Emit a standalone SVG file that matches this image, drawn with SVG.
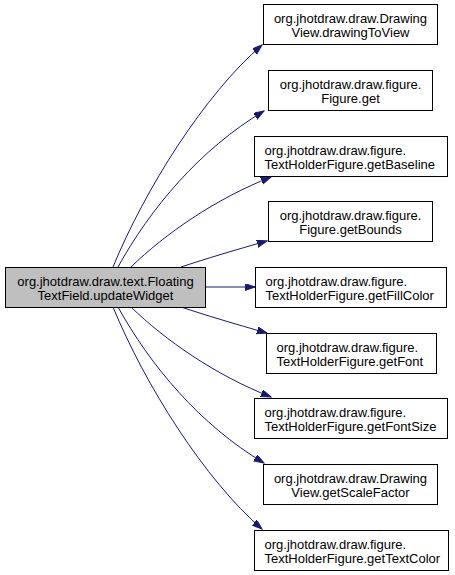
<svg xmlns="http://www.w3.org/2000/svg" width="455" height="575" viewBox="0 0 455 575">
<defs>
<marker id="ah" markerUnits="userSpaceOnUse" markerWidth="11" markerHeight="8" refX="10" refY="3.5" orient="auto">
<path d="M0,0 L10,3.5 L0,7 Z" fill="#191970" stroke="#191970" stroke-width="1"/>
</marker>
<style>
rect.n{fill:#ffffff;stroke:#000000;stroke-width:1}
rect.src{fill:#bfbfbf;stroke:#000000;stroke-width:1}
text{font-family:"Liberation Sans",Arial,sans-serif;font-size:13px;fill:#000000}
text.c{text-anchor:middle}
text.l{text-anchor:start}
.e{fill:none;stroke:#191970;stroke-width:1;marker-end:url(#ah)}
</style>
</defs>
<rect width="455" height="575" fill="#ffffff"/>
<g id="edges">
<path class="e" d="M113,267 C145,189 205,94 262,45"/>
<path class="e" d="M118,267 C150,209 200,149 264,111"/>
<path class="e" d="M131,267 C165,234 215,199 271,177"/>
<path class="e" d="M181,267 C205,259 235,250 267,241"/>
<path class="e" d="M205,287 L255,287"/>
<path class="e" d="M181,307 C205,315 235,324 267,333"/>
<path class="e" d="M131,307 C165,340 215,375 271,397"/>
<path class="e" d="M118,307 C150,365 200,425 264,463"/>
<path class="e" d="M113,307 C145,385 205,480 262,529"/>
</g>
<g id="src">
<rect class="src" x="5.5" y="267.5" width="200" height="40"/>
<text class="c" x="105.5" y="285.5">org.jhotdraw.draw.text.Floating</text>
<text class="c" x="105.5" y="299.5">TextField.updateWidget</text>
</g>
<g id="n1">
<rect class="n" x="263.5" y="4.5" width="174" height="40"/>
<text class="c" x="350.5" y="22.5">org.jhotdraw.draw.Drawing</text>
<text class="c" x="350.5" y="36.5">View.drawingToView</text>
</g>
<g id="n2">
<rect class="n" x="268.5" y="70.5" width="164" height="40"/>
<text class="c" x="350.5" y="88.5">org.jhotdraw.draw.figure.</text>
<text class="c" x="350.5" y="102.5">Figure.get</text>
</g>
<g id="n3">
<rect class="n" x="254.5" y="136.5" width="193" height="40"/>
<text class="l" x="264.5" y="154.5">org.jhotdraw.draw.figure.</text>
<text class="l" x="264.5" y="168.5">TextHolderFigure.getBaseline</text>
</g>
<g id="n4">
<rect class="n" x="268.5" y="201.5" width="164" height="40"/>
<text class="c" x="350.5" y="219.5">org.jhotdraw.draw.figure.</text>
<text class="c" x="350.5" y="233.5">Figure.getBounds</text>
</g>
<g id="n5">
<rect class="n" x="255.5" y="267.5" width="191" height="40"/>
<text class="l" x="265.5" y="285.5">org.jhotdraw.draw.figure.</text>
<text class="l" x="265.5" y="299.5">TextHolderFigure.getFillColor</text>
</g>
<g id="n6">
<rect class="n" x="266.5" y="333.5" width="170" height="40"/>
<text class="l" x="276.5" y="351.5">org.jhotdraw.draw.figure.</text>
<text class="l" x="276.5" y="365.5">TextHolderFigure.getFont</text>
</g>
<g id="n7">
<rect class="n" x="254.5" y="398.5" width="193" height="40"/>
<text class="l" x="264.5" y="416.5">org.jhotdraw.draw.figure.</text>
<text class="l" x="264.5" y="430.5">TextHolderFigure.getFontSize</text>
</g>
<g id="n8">
<rect class="n" x="263.5" y="464.5" width="174" height="40"/>
<text class="c" x="350.5" y="482.5">org.jhotdraw.draw.Drawing</text>
<text class="c" x="350.5" y="496.5">View.getScaleFactor</text>
</g>
<g id="n9">
<rect class="n" x="254.5" y="530.5" width="194" height="40"/>
<text class="l" x="264.5" y="548.5">org.jhotdraw.draw.figure.</text>
<text class="l" x="264.5" y="562.5">TextHolderFigure.getTextColor</text>
</g>
</svg>
